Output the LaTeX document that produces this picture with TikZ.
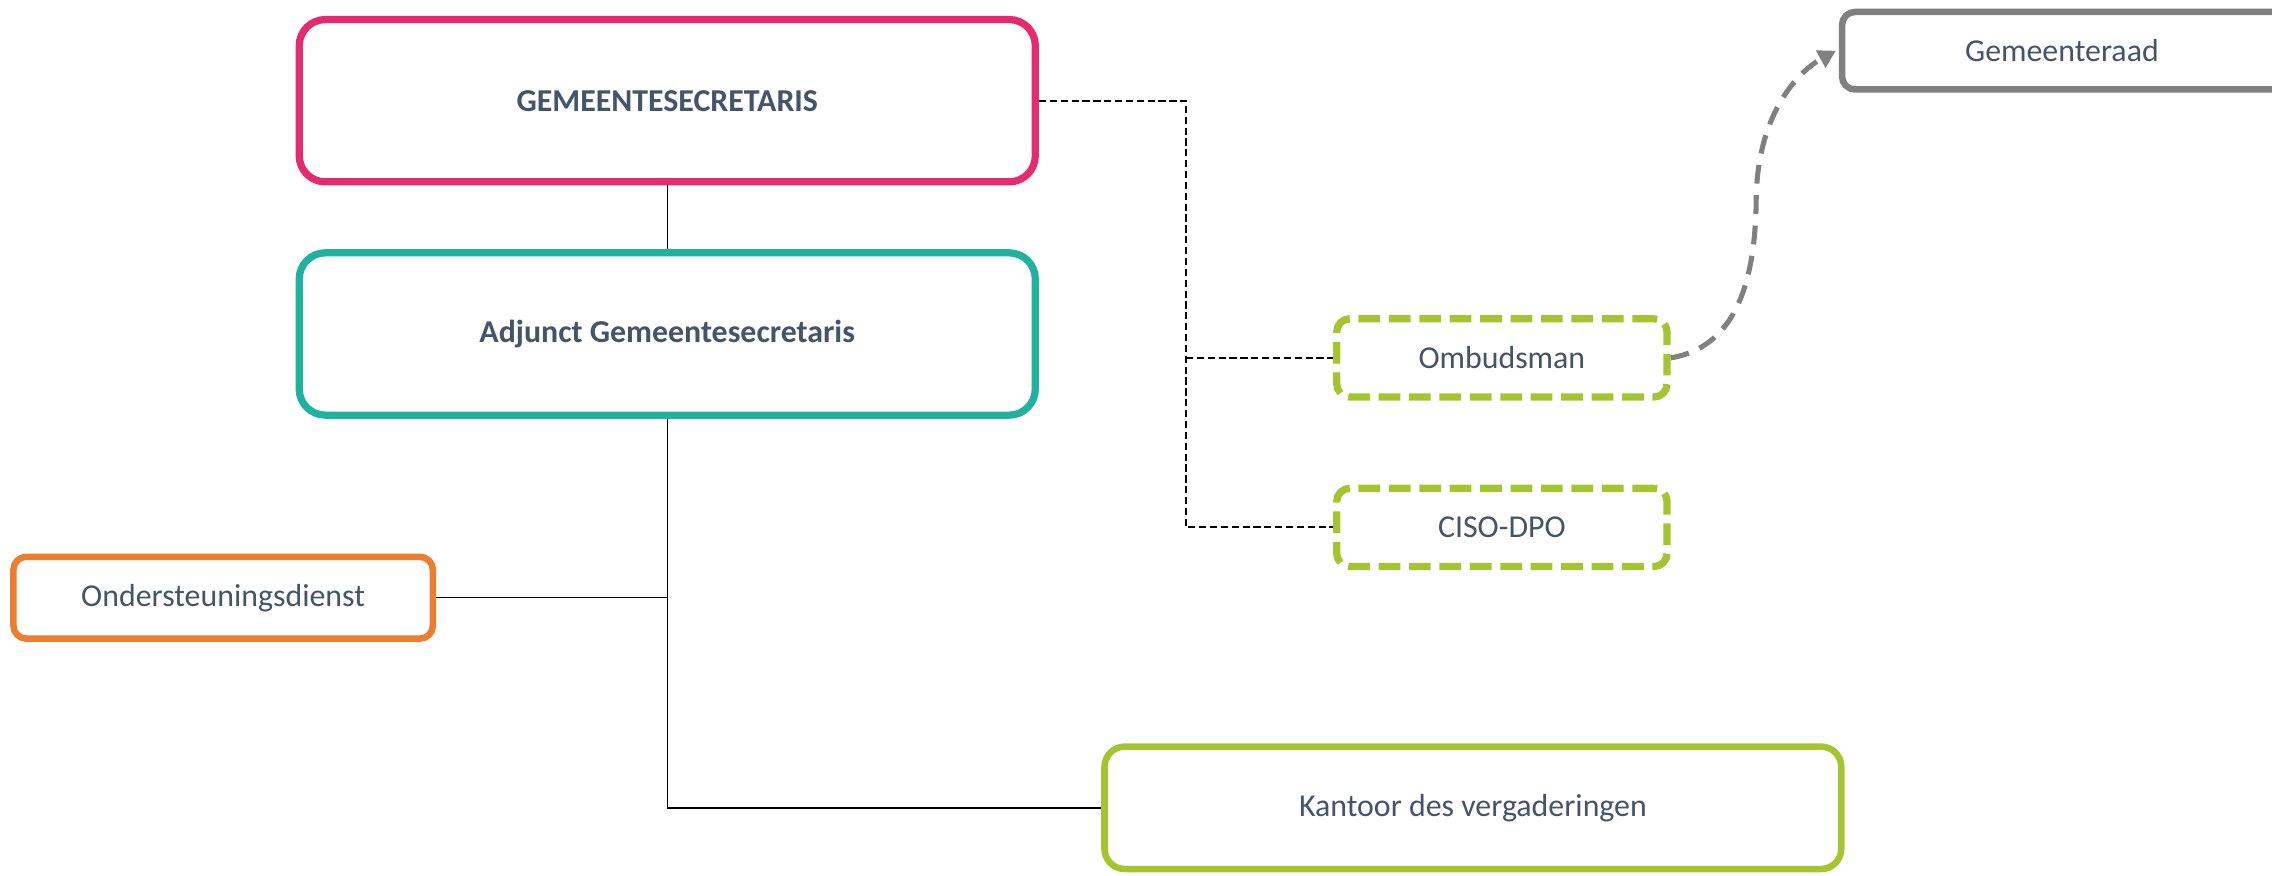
\documentclass[tikz,border=0pt]{standalone}
\usepackage{fontspec}
\setmainfont{Carlito}
\usetikzlibrary{arrows.meta}
\definecolor{cpink}{HTML}{E52A6F}
\definecolor{cteal}{HTML}{1FB2A0}
\definecolor{corange}{HTML}{ED7D31}
\definecolor{clime}{HTML}{A5C530}
\definecolor{cgray}{HTML}{808080}
\definecolor{ctext}{HTML}{44546A}
\tikzset{
  box/.style={draw, fill=white, inner sep=0pt, align=center, text=ctext,
    font=\fontsize{22}{26}\selectfont},
  bigbox/.style={box, line width=5pt, rounded corners=18pt,
    minimum width=508pt, minimum height=112pt, font=\fontsize{22}{26}\selectfont\bfseries},
  smallbox/.style={box, line width=4.5pt, rounded corners=9pt},
  dashbox/.style={box, line width=5pt, rounded corners=9pt, dash pattern=on 15pt off 6pt,
    draw=clime, minimum width=228pt, minimum height=54pt},
  solidlink/.style={draw=black, line width=1pt},
  dashlink/.style={draw=black, line width=1.3pt, dash pattern=on 5pt off 2.5pt},
  grayarrow/.style={draw=cgray, line width=3.5pt, dash pattern=on 13pt off 8pt,
    -{Triangle[length=12pt,width=13pt]}}
}
\begin{document}
\begin{tikzpicture}[x=1pt,y=-1pt]
\useasboundingbox (0,0) rectangle (1568,604);
\node[bigbox, draw=cpink] (pink) at (460.5,69.5) {GEMEENTESECRETARIS};
\node[bigbox, draw=cteal] (teal) at (460.5,230.5) {Adjunct Gemeentesecretaris};
\node[smallbox, draw=corange, minimum width=289.5pt, minimum height=56.5pt] (orange) at (154,412.5) {Ondersteuningsdienst};
\node[smallbox, draw=clime, rounded corners=14pt, minimum width=508.5pt, minimum height=84.5pt] (kantoor) at (1016.5,557.5) {Kantoor des vergaderingen};
\node[dashbox] (ombud) at (1036.5,247) {Ombudsman};
\node[dashbox] (ciso) at (1036.5,364) {CISO-DPO};
\node[smallbox, draw=cgray, minimum width=319.5pt, minimum height=53.5pt,
  label={[text=ctext, font=\fontsize{22}{26}\selectfont, xshift=-8pt]center:Gemeenteraad}] (raad) at (1431,35) {};
\coordinate (dv) at (818.5,0);
% solid links
\draw[solidlink] (pink.south) -- (teal.north);
\draw[solidlink] (teal.south) |- (kantoor.west);
\draw[solidlink] (orange.east) -- (orange.east -| teal.south);
% dashed links
\draw[dashlink] (pink.east) -- (pink.east -| dv) |- (ciso.west);
\draw[dashlink] (ombud.west -| dv) -- (ombud.west);
% curved arrow
\draw[grayarrow] (ombud.east) .. controls (1195,240) and (1211,200) .. (1212,140)
  .. controls (1212,80) and (1240,50) .. ([xshift=-2pt]raad.west);
\end{tikzpicture}
\end{document}
